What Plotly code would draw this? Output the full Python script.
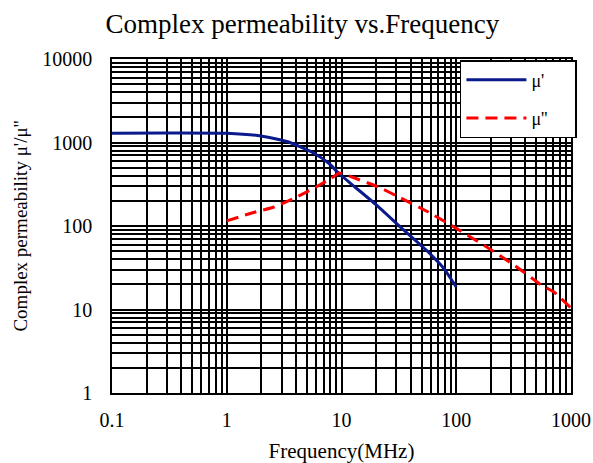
import plotly.graph_objects as go

# Data
freq_mu1 = [0.1, 0.3, 1, 2.0, 3.46, 5.5, 7.7, 9.4, 12.2, 20.2, 33.2, 57, 78.7, 100]
mu1 = [1290, 1300, 1290, 1196, 1014, 770, 568, 431, 318, 178, 95, 48.8, 30.5, 18.6]

freq_mu2 = [1, 1.65, 2.6, 3.9, 5.8, 8.2, 9.6, 13, 21, 33, 57, 96, 190, 320, 550, 710, 1000]
mu2 = [115, 143, 169, 216, 285, 376, 431, 376, 293, 216, 147, 97, 54.5, 34, 19.7, 16.2, 10.4]

x_ticks = [0.1, 1, 10, 100, 1000]
x_ticktext = ["0.1", "1", "10", "100", "1000"]
y_ticks = [1, 10, 100, 1000, 10000]
y_ticktext = ["1", "10", "100", "1000", "10000"]

FONT = "Liberation Serif"
PAD = "\u00a0" * 5

fig = go.Figure()
fig.add_trace(go.Scatter(
    x=freq_mu1, y=mu1, mode="lines", name="μ'" + PAD,
    line=dict(color="#0a1a8c", width=3, shape="spline", smoothing=0.5),
    legendgroup="a",
))
fig.add_trace(go.Scatter(
    x=freq_mu2, y=mu2, mode="lines", name="μ''" + PAD,
    line=dict(color="#ff0000", width=3, dash="12px,7px", shape="spline", smoothing=0.3),
    legendgroup="b",
))

axis_common = dict(
    type="log",
    automargin=False,
    showgrid=True, gridcolor="black", gridwidth=1.5,
    showline=True, linecolor="black", linewidth=1.6, mirror=True,
    zeroline=False, ticks="",
    tickfont=dict(family=FONT, size=20, color="black"),
    minor=dict(dtick="D1", showgrid=True, gridcolor="black", gridwidth=1.5, ticks=""),
)

fig.update_xaxes(
    **axis_common,
    range=[-1, 3],
    tickmode="array", tickvals=x_ticks, ticktext=x_ticktext,
    ticklabelstandoff=8,
    title=dict(text="Frequency(MHz)", font=dict(family=FONT, size=21, color="black"), standoff=14),
)
fig.update_yaxes(
    **axis_common,
    range=[0, 4],
    tickmode="array", tickvals=y_ticks, ticktext=y_ticktext,
    ticklabelstandoff=14,
    title=dict(text="Complex permeability μ'/μ''", font=dict(family=FONT, size=19, color="black"), standoff=10),
)

fig.update_layout(
    width=593, height=463,
    margin=dict(l=112, r=22, t=59, b=70),
    paper_bgcolor="white", plot_bgcolor="white",
    title=dict(text="Complex permeability vs.Frequency",
               font=dict(family=FONT, size=27, color="black"),
               x=0.510, xanchor="center", y=0.950, yanchor="middle"),
    showlegend=True,
    legend=dict(
        x=0.758, y=0.997, xanchor="left", yanchor="top",
        bgcolor="white", bordercolor="black", borderwidth=1.5,
        font=dict(family=FONT, size=18, color="black"),
        tracegroupgap=12, itemwidth=60,
    ),
)

fig.write_html("out.html", config={"displayModeBar": False},
               post_script="document.body.style.margin='0px';")
